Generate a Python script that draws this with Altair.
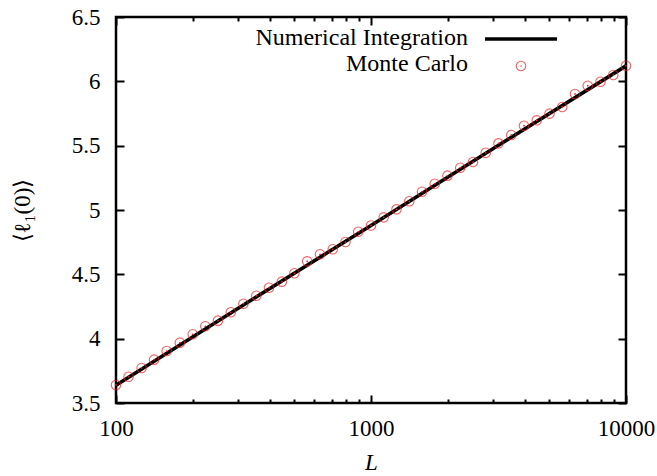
import altair as alt
import pandas as pd

# Monte Carlo estimates, 20 log-spaced system sizes per decade
mc_L = [100, 112, 126, 141, 158, 178, 200, 224, 251, 282, 316, 355, 398, 447, 501,
        562, 631, 708, 794, 891, 1000, 1122, 1259, 1413, 1585, 1778, 1995, 2239, 2512,
        2818, 3162, 3548, 3981, 4467, 5012, 5623, 6310, 7079, 7943, 8913, 10000]
mc_val = [3.640, 3.704, 3.772, 3.837, 3.904, 3.969, 4.034, 4.096, 4.140, 4.205, 4.272,
          4.334, 4.396, 4.443, 4.508, 4.601, 4.656, 4.695, 4.751, 4.831, 4.880,
          4.943, 5.005, 5.068, 5.142, 5.204, 5.267, 5.329, 5.373, 5.445, 5.518,
          5.583, 5.655, 5.697, 5.749, 5.801, 5.902, 5.966, 5.997, 6.049, 6.121]

# Numerical integration curve
ni_L = [100, 316, 1000, 3162, 10000]
ni_val = [3.638, 4.262, 4.880, 5.503, 6.120]

major_x = [100, 1000, 10000]
minor_x = [200, 300, 400, 500, 600, 700, 800, 900,
           2000, 3000, 4000, 5000, 6000, 7000, 8000, 9000]
y_ticks = [3.5, 4, 4.5, 5, 5.5, 6, 6.5]

mc = pd.DataFrame({"L": mc_L, "v": mc_val})
ni = pd.DataFrame({"L": ni_L, "v": ni_val})

FONT = "Times New Roman, Liberation Serif, serif"
FS = 23
KEY_FS = 24
W, H = 510, 386
RED = "#f01c1c"

xs = alt.Scale(type="log", domain=[100, 10000], nice=False)
ys = alt.Scale(domain=[3.5, 6.5], nice=False, zero=False)


def tick_axis(orient, values, size):
    return alt.Axis(orient=orient, values=values, tickSize=size, offset=-size,
                    domain=False, grid=False, labels=False, ticks=True,
                    tickColor="black", tickWidth=2, title=None)


bottom_major = alt.Axis(
    orient="bottom", values=major_x, format="d", tickSize=8, offset=-8,
    domain=False, grid=False, tickColor="black", tickWidth=2,
    labelFont=FONT, labelFontSize=FS, labelColor="black", labelPadding=25,
    labelBaseline="middle", labelFlush=False,
    title="L", titleFont=FONT, titleFontSize=FS, titleFontStyle="italic",
    titleFontWeight="normal", titleColor="black",
    titleX=W / 2, titleY=67, titleBaseline="middle", titleAlign="center",
)

left_major = alt.Axis(
    orient="left", values=y_ticks, format="~g", tickSize=8, offset=-8,
    domain=False, grid=False, tickColor="black", tickWidth=2,
    labelFont=FONT, labelFontSize=FS, labelColor="black", labelPadding=16,
    labelFlush=False,
    title="⟨ℓ₁(0)⟩", titleFont=FONT, titleFontSize=FS, titleFontWeight="normal",
    titleColor="black", titleAngle=270, titleX=-102, titleY=H / 2,
    titleBaseline="middle", titleAlign="center",
)

line = alt.Chart(ni).mark_line(color="black", strokeWidth=3.6).encode(
    x=alt.X("L:Q", scale=xs, axis=bottom_major),
    y=alt.Y("v:Q", scale=ys, axis=left_major),
)

points = alt.Chart(mc).mark_point(
    shape="circle", filled=False, size=90, color=RED, strokeWidth=1.1
).encode(
    x=alt.X("L:Q", scale=xs, axis=None),
    y=alt.Y("v:Q", scale=ys, axis=None),
)

dots = alt.Chart(mc).mark_point(
    shape="circle", filled=True, size=3, color=RED, opacity=1
).encode(
    x=alt.X("L:Q", scale=xs, axis=None),
    y=alt.Y("v:Q", scale=ys, axis=None),
)


def axis_layer(xaxis, yaxis):
    return alt.Chart(ni).mark_point(opacity=0).encode(
        x=alt.X("L:Q", scale=xs, axis=xaxis),
        y=alt.Y("v:Q", scale=ys, axis=yaxis),
    )


extra_axes = [
    axis_layer(tick_axis("bottom", minor_x, 4), None),
    axis_layer(tick_axis("top", major_x, 8), tick_axis("right", y_ticks, 8)),
    axis_layer(tick_axis("top", minor_x, 4), None),
]

# Key in the upper part of the plot
key = pd.DataFrame({"a": [0]})
key_text = alt.Chart(key).mark_text(
    font=FONT, fontSize=KEY_FS, align="right", baseline="middle", color="black"
)
ni_label = key_text.encode(x=alt.value(352), y=alt.value(21),
                           text=alt.value("Numerical Integration"))
mc_label = key_text.encode(x=alt.value(352), y=alt.value(47),
                           text=alt.value("Monte Carlo"))
ni_sample = alt.Chart(key).mark_rule(color="black", strokeWidth=3.6).encode(
    x=alt.value(369), x2=alt.value(441), y=alt.value(22)
)
mc_sample = alt.Chart(key).mark_point(
    shape="circle", filled=False, size=90, color=RED, strokeWidth=1.1
).encode(x=alt.value(405), y=alt.value(49))
mc_sample_dot = alt.Chart(key).mark_point(
    shape="circle", filled=True, size=3, color=RED
).encode(x=alt.value(405), y=alt.value(49))

chart = alt.layer(
    line, points, dots, *extra_axes,
    ni_label, mc_label, ni_sample, mc_sample, mc_sample_dot,
).resolve_axis(
    x="independent", y="independent"
).properties(
    width=W, height=H,
    autosize=alt.AutoSizeParams(type="none"),
    padding={"left": 116, "top": 17, "right": 31, "bottom": 73},
    background="white",
).configure_view(
    stroke="black", strokeWidth=2.5
)

chart.save("out.html", embed_options={"renderer": "svg", "actions": False})
